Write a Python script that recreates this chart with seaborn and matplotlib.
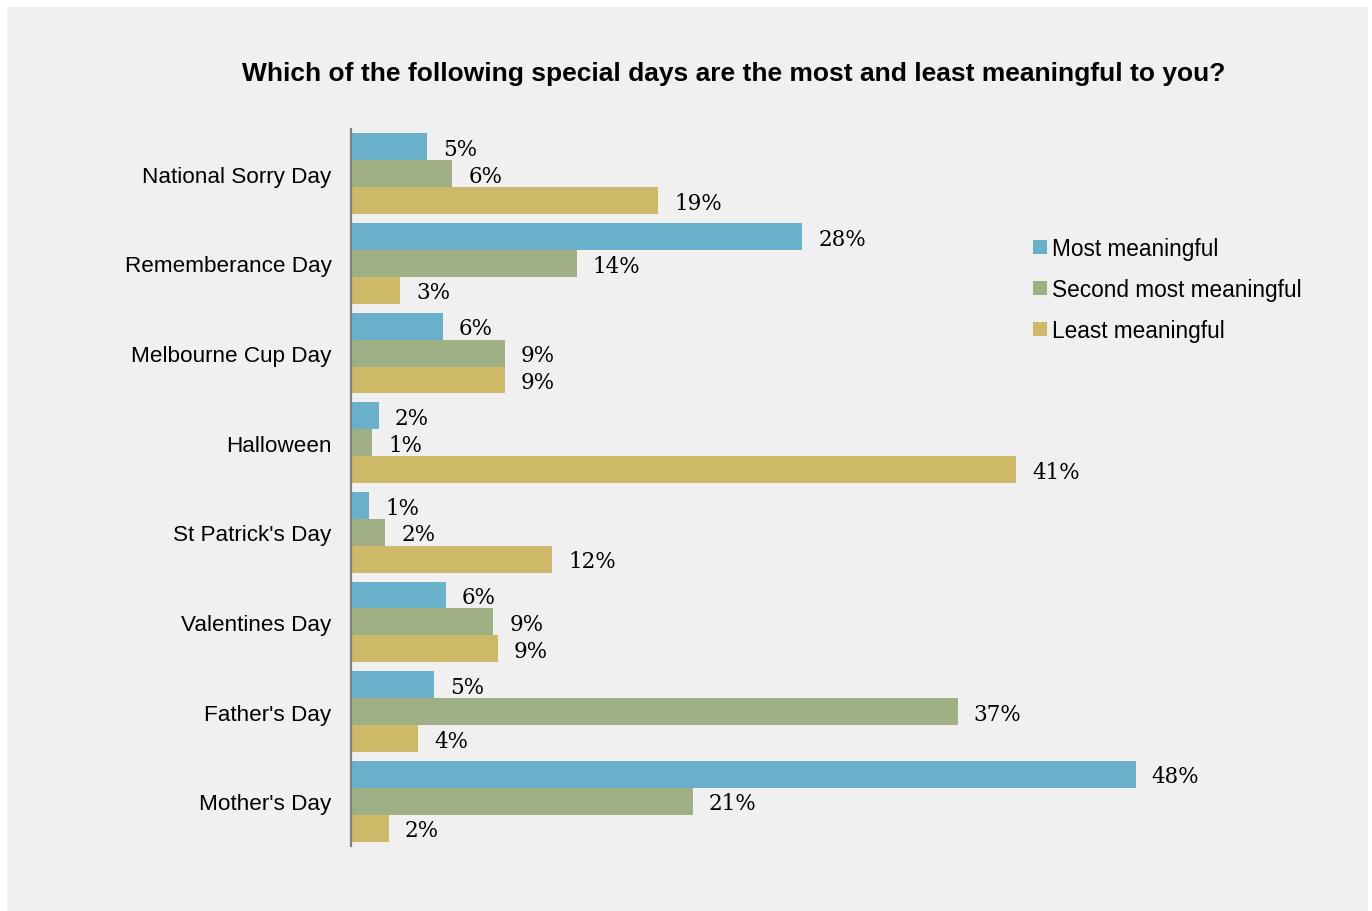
import matplotlib
matplotlib.use("Agg")
import matplotlib.pyplot as plt
from matplotlib.patches import Rectangle, Patch
import seaborn as sns
import pandas as pd

categories = ["National Sorry Day", "Rememberance Day", "Melbourne Cup Day", "Halloween",
              "St Patrick's Day", "Valentines Day", "Father's Day", "Mother's Day"]
series_names = ["Most meaningful", "Second most meaningful", "Least meaningful"]
most = [4.65, 27.6, 5.6, 1.7, 1.1, 5.8, 5.1, 48.0]
second = [6.2, 13.8, 9.4, 1.3, 2.1, 8.7, 37.1, 20.9]
least = [18.8, 3.0, 9.4, 40.7, 12.3, 9.0, 4.1, 2.3]
colors = ["#6BB0CA", "#9EB084", "#CEB968"]
title = "Which of the following special days are the most and least meaningful to you?"

rows = []
for name, vals in zip(series_names, [most, second, least]):
    for c, v in zip(categories, vals):
        rows.append({"day": c, "series": name, "value": v})
df = pd.DataFrame(rows)

sns.set_style("white")
plt.rcParams["font.family"] = ["Liberation Sans", "DejaVu Sans"]

fig = plt.figure(figsize=(13.72, 9.12), dpi=100)
fig.patch.set_facecolor("white")
W, H = 1372, 912
fig.patches.append(Rectangle((7 / W, 0), (1368 - 7) / W, (912 - 8) / H,
                             transform=fig.transFigure, facecolor="#F0F0F0",
                             edgecolor="none", zorder=-5))

ax = fig.add_axes([351 / W, 1 - 847 / H, (1332 - 351) / W, (847 - 130) / H])
ax.set_zorder(2)
ax.set_facecolor("none")
sns.barplot(data=df, y="day", x="value", hue="series", order=categories,
            hue_order=series_names, palette=colors, width=0.9, orient="h",
            ax=ax, legend=False, saturation=1, edgecolor="none")

for cont in ax.containers:
    labels = [f"{round(b.get_width())}%" for b in cont]
    anns = ax.bar_label(cont, labels=labels, padding=11.5, fontsize=15.5,
                        family=["DejaVu Serif"], color="black")
    for a in anns:
        a.set_va("center")
        xy = a.xyann
        a.xyann = (xy[0], xy[1] - 1.5)

ax.set_xlim(0, 60)
ax.set_ylim(7.5, -0.5)
ax.set_xlabel("")
ax.set_ylabel("")
ax.set_xticks([])
ax.tick_params(axis="y", length=0, pad=14, labelsize=16.2, labelcolor="black")
for s in ["top", "right", "bottom"]:
    ax.spines[s].set_visible(False)
ax.spines["left"].set_color("#808080")
ax.spines["left"].set_linewidth(1.6)

fig.text(734 / W, 1 - 73.5 / H, title, ha="center", va="center",
         fontsize=19, fontweight="bold", color="black", zorder=3)

handles = [Patch(facecolor=c, edgecolor="none") for c in colors]
leg = fig.legend(handles, series_names, loc="upper left",
                 bbox_to_anchor=(1024 / W, 1 - 229 / H), frameon=False,
                 fontsize=16.3, handlelength=0.6, handleheight=0.6,
                 handletextpad=0.25, labelspacing=0.8, borderaxespad=0)
for t in leg.get_texts():
    t.set_color("black")
leg.set_zorder(3)

fig.savefig("out.png", dpi=100, facecolor=fig.get_facecolor())
